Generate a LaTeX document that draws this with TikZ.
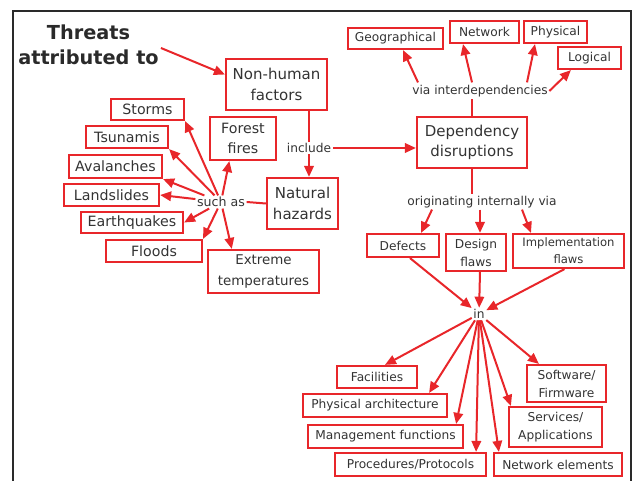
\documentclass[tikz,border=0pt]{standalone}
\usepackage{fontspec}
\setmainfont{DejaVu Sans}
\usetikzlibrary{arrows.meta,calc}
\definecolor{boxred}{HTML}{E8262A}
\definecolor{ink}{HTML}{333333}
\definecolor{framegray}{HTML}{2A2A2A}
\newcommand{\txtsize}[2]{\fontsize{#1}{#2}\selectfont}

\begin{document}
\begin{tikzpicture}[x=1pt,y=-1pt,
  box/.style={draw=boxred, line width=2.2pt, inner sep=0pt, align=center, text=ink},
  big/.style={font=\txtsize{15}{20.5}},
  mid/.style={font=\txtsize{14.2}{20}},
  small/.style={font=\txtsize{12.2}{18}},
  lbl/.style={inner sep=1.5pt, text=ink, font=\txtsize{12.2}{15}},
  arr/.style={draw=boxred, line width=2pt, -{Triangle[length=11pt,width=9.5pt]}},
  link/.style={draw=boxred, line width=2pt},
]
\useasboundingbox (0,0) rectangle (633,481);

% open frame
\draw[framegray, line width=2pt] (13,481) -- (13,11) -- (631,11) -- (631,481);

% title
\node[align=center, font=\bfseries\txtsize{19.3}{25}, text=framegray, inner sep=2pt] (title) at (88.5,45) {Threats\\attributed to};

% non-human branch
\node[box, big, minimum width=101pt, minimum height=51pt] (nonhuman) at (276.5,84.5) {Non-human\\factors};
\node[lbl] (include) at (309,148) {include};
\node[box, big, minimum width=71pt, minimum height=51pt] (natural) at (302.5,203.5) {Natural\\hazards};
\node[lbl, font=\txtsize{12.6}{15}] (suchas) at (221,202) {such as};

\node[box, mid, minimum width=73pt, minimum height=21pt] (storms) at (147.5,109.5) {Storms};
\node[box, mid, minimum width=82pt, minimum height=22pt] (tsunamis) at (127,137) {Tsunamis};
\node[box, mid, minimum width=66pt, minimum height=43pt] (forest) at (243,138.5) {Forest\\fires};
\node[box, mid, minimum width=93pt, minimum height=23pt] (avalanches) at (115.5,166.5) {Avalanches};
\node[box, mid, minimum width=95pt, minimum height=22pt] (landslides) at (111.5,195) {Landslides};
\node[box, mid, minimum width=102pt, minimum height=21pt] (earthquakes) at (132,222.5) {Earthquakes};
\node[box, mid, minimum width=96pt, minimum height=22pt] (floods) at (154,251) {Floods};
\node[box, font=\txtsize{13.4}{20.5}, minimum width=111pt, minimum height=43pt] (extreme) at (263.5,271.5) {Extreme\\temperatures};

% dependency branch
\node[box, big, minimum width=110pt, minimum height=51pt] (dep) at (472,142.5) {Dependency\\disruptions};
\node[lbl] (via) at (480,91) {via interdependencies};
\node[box, small, minimum width=95pt, minimum height=21pt] (geo) at (395.5,38.5) {Geographical};
\node[box, small, minimum width=69pt, minimum height=22pt] (network) at (484.5,32) {Network};
\node[box, small, minimum width=63pt, minimum height=22pt] (physical) at (555.5,32) {Physical};
\node[box, small, minimum width=63pt, minimum height=22pt] (logical) at (589.5,58) {Logical};

\node[lbl] (orig) at (482,202) {originating internally via};
\node[box, small, minimum width=72pt, minimum height=23pt] (defects) at (403,245.5) {Defects};
\node[box, small, minimum width=60pt, minimum height=37pt] (design) at (476,252.5) {Design\\flaws};
\node[box, font=\txtsize{11.6}{17}, minimum width=111pt, minimum height=34pt] (impl) at (568.5,251) {Implementation\\flaws};

\node[lbl] (in) at (479,314) {in};
\node[box, small, minimum width=80pt, minimum height=22pt] (facilities) at (377,377) {Facilities};
\node[box, small, minimum width=144pt, minimum height=23pt] (physarch) at (375,405.5) {Physical architecture};
\node[box, small, minimum width=155pt, minimum height=23pt] (mgmt) at (385.5,436.5) {Management functions};
\node[box, small, minimum width=151pt, minimum height=23pt] (proc) at (410.5,464.5) {Procedures/Protocols};
\node[box, small, minimum width=128pt, minimum height=23pt] (netelem) at (558,464.5) {Network elements};
\node[box, small, minimum width=93pt, minimum height=40pt] (services) at (555.5,427) {Services/\\Applications};
\node[box, small, minimum width=79pt, minimum height=37pt] (software) at (566.5,383.5) {Software/\\Firmware};

% connectors: left side
\draw[arr] ([yshift=-3pt]title.east) -- ([yshift=10pt]nonhuman.west);
\draw[link] (include.north |- nonhuman.south) -- (include.north);
\draw[arr] (include.south) -- (include.south |- natural.north);
\draw[arr] (include.east) -- (include.east -| dep.west);
\draw[link] (natural.west) -- (suchas.east);

\draw[arr] (suchas) -- (storms.south east);
\draw[arr] (suchas) -- (tsunamis.south east);
\draw[arr] (suchas) -- (avalanches.south east);
\draw[arr] (suchas) -- (landslides.east);
\draw[arr] (suchas) -- (earthquakes.east);
\draw[arr] (suchas) -- (floods.north east);
\draw[arr] (suchas) -- ($(forest.south west)!0.3!(forest.south east)$);
\draw[arr] (suchas) -- ($(extreme.north west)!0.22!(extreme.north east)$);

% connectors: interdependencies
\draw[link] (dep.north) -- (dep.north |- via.south);
\draw[arr] ([xshift=-62pt,yshift=1pt]via.north) -- ([xshift=7.5pt]geo.south);
\draw[arr] ([xshift=-8pt,yshift=1pt]via.north) -- ([xshift=-21.5pt]network.south);
\draw[arr] ([xshift=47pt,yshift=1pt]via.north) -- ([xshift=-20.5pt]physical.south);
\draw[arr] (via.east) -- ([xshift=14pt]logical.south west);

% connectors: internal origins
\draw[link] (dep.south) -- (dep.south |- orig.north);
\draw[arr] ([xshift=-50pt]orig.south) -- ([xshift=-19pt]defects.north east);
\draw[arr] ([xshift=-2pt]orig.south) -- ([xshift=4pt]design.north);
\draw[arr] ([xshift=40pt]orig.south) -- ([xshift=-37.5pt]impl.north);

\draw[arr] ([xshift=7pt]defects.south) -- (in);
\draw[arr] ([xshift=4pt]design.south) -- (in);
\draw[arr] ([xshift=-4pt]impl.south) -- (in);

% connectors: affected elements
\draw[arr] (in) -- ([xshift=8pt]facilities.north);
\draw[arr] (in) -- ([xshift=-19pt]physarch.north east);
\draw[arr] (in) -- ([xshift=-8pt]mgmt.north east);
\draw[arr] (in) -- ([xshift=-11pt]proc.north east);
\draw[arr] (in) -- ([xshift=6pt]netelem.north west);
\draw[arr] (in) -- ([xshift=3pt]services.north west);
\draw[arr] (in) -- ([xshift=13pt]software.north west);
\end{tikzpicture}
\end{document}
